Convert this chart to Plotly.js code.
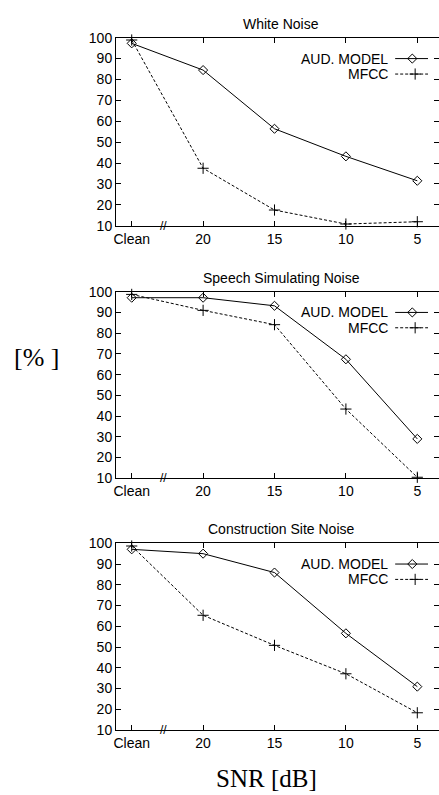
<!DOCTYPE html>
<html><head><meta charset="utf-8">
<script src="https://cdn.plot.ly/plotly-3.0.1.min.js"></script>
<style>html,body{margin:0;padding:0;background:#fff;}#c{width:439px;height:795px;}</style>
</head><body><div id="c"></div>
<script>
var categories = ['Clean', '20', '15', '10', '5'];
var xIndex = [0, 1, 2, 3, 4];
var panelTitles = ['White Noise', 'Speech Simulating Noise', 'Construction Site Noise'];
var seriesNames = ['AUD. MODEL', 'MFCC'];
var whiteAud = [97.3, 84.5, 56.4, 43.2, 31.5];
var whiteMfcc = [98.9, 37.5, 17.5, 10.8, 11.9];
var speechAud = [97.1, 97.1, 93.2, 67.4, 29.0];
var speechMfcc = [98.7, 91.0, 84.1, 43.4, 10.5];
var constAud = [97.1, 95.0, 85.9, 56.6, 30.9];
var constMfcc = [98.7, 65.3, 50.8, 37.1, 18.3];
var yTicks = [10, 20, 30, 40, 50, 60, 70, 80, 90, 100];

var W = 439, H = 795;
var plotLeft = 116;
var panelsPx = [[37.7, 225.7], [291.7, 478.3], [543.3, 730]];
var xRange = [-0.22, 4.304];
var font = 'Liberation Sans, Arial, sans-serif';
var serif = 'Liberation Serif, Times New Roman, serif';

var audStyle = {line: {color: '#000', width: 1}, marker: {symbol: 'diamond-open', size: 7, color: '#000', line: {width: 1, color: '#000'}}};
var mfccStyle = {line: {color: '#000', width: 1, dash: '3px,2px'}, marker: {symbol: 'cross-thin-open', size: 8, color: '#000', line: {width: 1, color: '#000'}}};

var dataSets = [[whiteAud, whiteMfcc], [speechAud, speechMfcc], [constAud, constMfcc]];
var traces = [];
var layout = {
  width: W, height: H, margin: {l: 0, r: 0, t: 0, b: 0},
  paper_bgcolor: '#fff', plot_bgcolor: '#fff', showlegend: false,
  font: {family: font, size: 14, color: '#000'},
  annotations: []
};

// legend sample layout (data coords within each panel)
var legTextX = 3.62, legX0 = 3.69, legX1 = 4.15, legAudM = 3.93, legMfccM = 3.97;
var legY = [90.0, 82.6];

dataSets.forEach(function (ds, i) {
  var n = i === 0 ? '' : String(i + 1);
  var xa = 'x' + n, ya = 'y' + n;
  traces.push(Object.assign({x: xIndex, y: ds[0], xaxis: xa, yaxis: ya, mode: 'lines+markers', name: seriesNames[0], cliponaxis: false, hoverinfo: 'skip'}, audStyle));
  traces.push(Object.assign({x: xIndex, y: ds[1], xaxis: xa, yaxis: ya, mode: 'lines+markers', name: seriesNames[1], cliponaxis: false, hoverinfo: 'skip'}, mfccStyle));
  // legend samples
  traces.push({x: [legX0, legX1], y: [legY[0], legY[0]], xaxis: xa, yaxis: ya, mode: 'lines', line: audStyle.line, hoverinfo: 'skip', cliponaxis: false});
  traces.push({x: [legAudM], y: [legY[0]], xaxis: xa, yaxis: ya, mode: 'markers', marker: audStyle.marker, hoverinfo: 'skip', cliponaxis: false});
  traces.push({x: [legX0, legX1], y: [legY[1], legY[1]], xaxis: xa, yaxis: ya, mode: 'lines', line: mfccStyle.line, hoverinfo: 'skip', cliponaxis: false});
  traces.push({x: [legMfccM], y: [legY[1]], xaxis: xa, yaxis: ya, mode: 'markers', marker: mfccStyle.marker, hoverinfo: 'skip', cliponaxis: false});

  var top = panelsPx[i][0], bot = panelsPx[i][1];
  layout['xaxis' + n] = {
    domain: [plotLeft / W, 1], range: xRange, anchor: ya,
    tickvals: xIndex, ticktext: categories, ticks: 'inside', ticklen: 5, tickcolor: '#000', tickwidth: 1,
    showline: true, linecolor: '#000', linewidth: 1, mirror: 'ticks', showgrid: false, zeroline: false,
    tickfont: {family: font, size: 14, color: '#000'}, automargin: false, fixedrange: true
  };
  layout['yaxis' + n] = {
    domain: [1 - bot / H, 1 - top / H], range: [10, 100], anchor: xa,
    tickvals: yTicks, ticks: 'inside', ticklen: 5, tickcolor: '#000', tickwidth: 1,
    showline: true, linecolor: '#000', linewidth: 1, mirror: 'ticks', showgrid: false, zeroline: false,
    tickfont: {family: font, size: 14, color: '#000'}, automargin: false, fixedrange: true
  };
  layout.annotations.push({text: panelTitles[i], xref: xa + ' domain', yref: ya + ' domain', x: 0.511, y: 1, yanchor: 'bottom', yshift: 4, showarrow: false, font: {family: font, size: 14, color: '#000'}});
  layout.annotations.push({text: seriesNames[0], xref: xa, yref: ya, x: legTextX, y: legY[0], xanchor: 'right', yanchor: 'middle', showarrow: false, font: {family: font, size: 14, color: '#000'}});
  layout.annotations.push({text: seriesNames[1], xref: xa, yref: ya, x: legTextX, y: legY[1], xanchor: 'right', yanchor: 'middle', showarrow: false, font: {family: font, size: 14, color: '#000'}});
  layout.annotations.push({text: '//', xref: xa, yref: ya, x: 0.45, y: 10, xanchor: 'center', yanchor: 'middle', showarrow: false, font: {family: font, size: 12, color: '#000'}});
});

layout.annotations.push({text: '[% ]', xref: 'paper', yref: 'paper', x: 36 / W, y: 1 - 357 / H, xanchor: 'center', yanchor: 'middle', showarrow: false, font: {family: serif, size: 26, color: '#000'}});
layout.annotations.push({text: 'SNR [dB]', xref: 'paper', yref: 'paper', x: 266 / W, y: 1 - 778 / H, xanchor: 'center', yanchor: 'middle', showarrow: false, font: {family: serif, size: 25, color: '#000'}});

Plotly.newPlot('c', traces, layout, {staticPlot: true, displayModeBar: false});
</script></body></html>
